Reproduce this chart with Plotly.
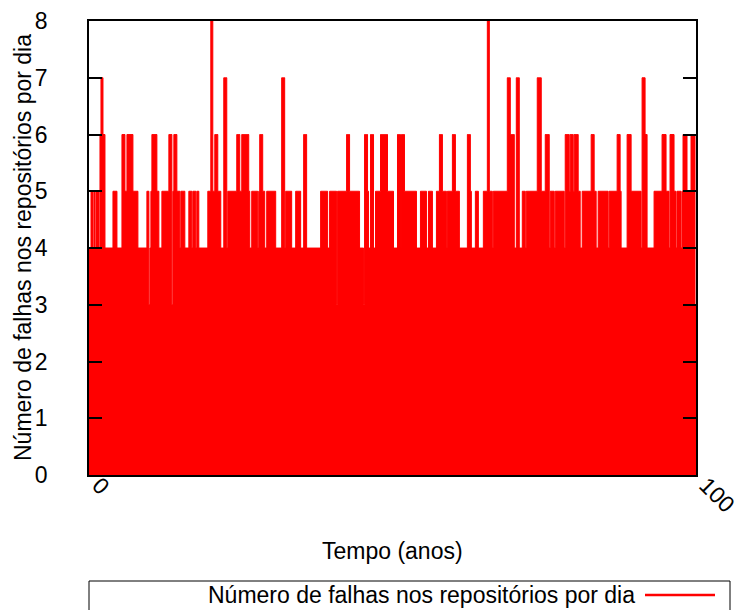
import plotly.graph_objects as go

# Máximo diário de falhas nos repositórios, agrupado em 608 períodos ao longo de 100 anos
falhas_max = [
    4,4,5,5,4,5,4,5,5,5,4,6,7,7,6,6,4,4,4,4,
    4,4,4,4,5,5,5,5,4,4,4,4,4,6,6,6,5,5,6,6,
    6,6,6,6,5,5,5,5,5,4,4,4,4,4,4,4,4,4,5,5,
    3,4,5,6,6,6,6,6,5,5,4,4,4,5,5,5,5,5,5,5,
    6,6,6,3,5,6,6,6,5,5,5,4,5,5,5,5,4,4,4,4,
    5,5,5,4,5,5,5,4,5,5,4,4,4,4,4,4,4,4,4,5,
    5,5,8,8,5,5,6,6,6,5,5,5,4,4,4,7,7,7,4,5,
    5,5,5,5,5,5,5,5,6,6,6,5,5,6,6,6,6,6,6,6,
    5,4,4,5,5,5,5,5,5,4,5,6,6,6,5,5,4,4,5,5,
    5,5,5,5,5,5,5,4,4,4,4,4,4,7,7,7,4,5,5,5,
    5,5,5,4,4,4,4,5,5,5,5,5,4,4,4,6,6,6,4,4,
    4,4,4,4,4,4,4,4,4,4,4,4,5,5,5,5,5,5,5,4,
    4,5,5,5,5,5,5,5,3,5,5,5,5,5,5,5,5,5,6,6,
    6,5,5,5,5,5,5,5,5,5,5,4,4,4,4,3,6,6,6,5,
    4,4,6,6,6,4,4,5,5,5,5,5,6,6,6,6,6,6,6,5,
    5,5,5,5,5,4,4,4,4,6,6,6,4,6,6,6,5,5,5,5,
    5,5,5,5,5,5,5,5,4,4,4,4,5,5,5,5,5,5,4,4,
    5,5,5,5,4,4,4,4,5,5,5,6,6,6,5,5,5,5,4,5,
    5,5,5,5,6,6,6,5,5,5,5,4,4,4,4,4,4,4,4,6,
    6,6,5,4,4,4,4,5,5,5,4,4,4,4,4,5,5,5,5,8,
    8,5,5,5,4,5,5,5,5,5,5,5,5,5,5,5,5,5,5,7,
    7,7,6,6,6,6,4,4,7,7,7,4,4,4,5,5,5,4,5,5,
    5,5,5,5,5,5,5,5,5,7,7,7,7,5,5,5,5,6,6,6,
    6,4,5,5,5,5,4,5,5,5,5,5,5,5,5,5,4,6,6,6,
    6,5,6,6,6,5,6,6,6,6,5,5,4,4,5,5,5,5,5,5,
    5,5,5,6,6,6,5,5,4,4,5,5,5,5,5,5,5,5,5,5,
    4,5,5,5,5,5,5,5,5,6,6,6,5,4,4,4,4,4,4,6,
    6,6,6,5,5,5,5,5,5,5,5,5,5,4,7,7,7,6,6,4,
    4,4,4,4,4,4,5,5,5,5,5,5,5,5,6,6,6,6,5,5,
    5,4,6,6,6,6,5,5,4,5,5,5,5,4,5,6,6,6,6,5,
    5,5,5,6,6,6,6,3,
]

anos_total = 100
rotulos_x = ["0", "100"]
valores_x = [0, 100]
valores_y = list(range(0, 9))

titulo_x = "Tempo (anos)"
titulo_y = "Número de falhas nos repositórios por dia"
nome_serie = "Número de falhas nos repositórios por dia"

# início de cada período em anos (passo hv preenchido até zero)
n = len(falhas_max)
passo = anos_total / n
tempo = [i * passo for i in range(n)] + [anos_total]
valores = falhas_max + [falhas_max[-1]]

W, H = 739, 610
L, R, T, B = 89, 696, 21, 475
FONTE = "Liberation Sans, Arial, Helvetica, sans-serif"
TAM = 23
VERMELHO = "#ff0000"


def px_x(p):
    return (p - L) / (R - L)


def px_y(p):
    return (B - p) / (B - T)


fig = go.Figure()
fig.add_trace(go.Scatter(
    x=tempo, y=valores, mode="lines", line_shape="hv",
    line=dict(color=VERMELHO, width=1),
    fill="tozeroy", fillcolor=VERMELHO,
    name=nome_serie, showlegend=False, hoverinfo="skip",
))

fig.update_layout(
    width=W, height=H,
    margin=dict(l=L, r=W - R, t=T, b=H - B, pad=0),
    paper_bgcolor="white", plot_bgcolor="white",
    font=dict(family=FONTE, size=TAM, color="black"),
    xaxis=dict(
        range=[0, anos_total], tickvals=valores_x, ticktext=rotulos_x,
        tickangle=45, ticks="", showgrid=False, zeroline=False,
        showline=True, mirror=True, linecolor="black", linewidth=1.5,
        tickfont=dict(family=FONTE, size=TAM, color="black"),
        automargin=False, ticklabelstandoff=-14, ticklabelshift=10,
        ticklabeloverflow="allow",
    ),
    yaxis=dict(
        range=[0, 8], tickvals=valores_y, ticks="inside", ticklen=13,
        tickwidth=1.5, tickcolor="black",
        showgrid=False, zeroline=False,
        showline=True, mirror="ticks", linecolor="black", linewidth=1.5,
        tickfont=dict(family=FONTE, size=TAM, color="black"),
        automargin=False, ticklabelstandoff=35,
    ),
)

anot = [
    dict(text=titulo_x, x=0.5, y=px_y(551), xref="paper", yref="paper",
         xanchor="center", yanchor="middle", showarrow=False,
         font=dict(family=FONTE, size=TAM, color="black")),
    dict(text=titulo_y, x=px_x(23), y=0.5, xref="paper", yref="paper",
         xanchor="center", yanchor="middle", textangle=-90, showarrow=False,
         font=dict(family=FONTE, size=TAM, color="black")),
    dict(text=nome_serie, x=px_x(637), y=px_y(595), xref="paper", yref="paper",
         xanchor="right", yanchor="middle", showarrow=False,
         font=dict(family=FONTE, size=TAM, color="black")),
]
fig.update_layout(annotations=anot)

# caixa da legenda e amostra da linha
fig.add_shape(type="rect", xref="paper", yref="paper",
              x0=px_x(89), x1=px_x(730), y0=px_y(581), y1=px_y(660),
              line=dict(color="black", width=1), fillcolor="rgba(0,0,0,0)")
fig.add_shape(type="line", xref="paper", yref="paper",
              x0=px_x(645), x1=px_x(715), y0=px_y(595), y1=px_y(595),
              line=dict(color=VERMELHO, width=2.5))

fig.write_html("out.html")
